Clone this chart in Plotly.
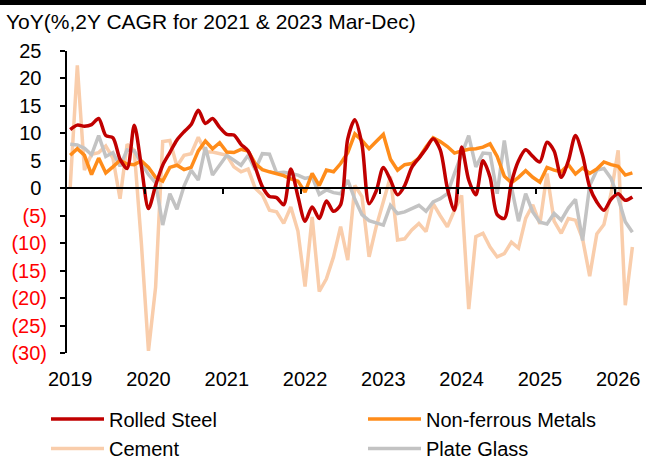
import plotly.graph_objects as go

# ---------------- data ----------------
years = ["2019", "2020", "2021", "2022", "2023", "2024", "2025", "2026"]
months = ["Jan-Feb", "Mar", "Apr", "May", "Jun", "Jul", "Aug", "Sep", "Oct", "Nov", "Dec"]
periods = [f"{m} {y}" for y in years[:-1] for m in months] + [f"{m} 2026" for m in months[:3]]

rolled_steel = [10.7, 11.5, 11.3, 11.6, 12.7, 9.6, 9.2, 5.3, 3.6, 11.5, 4.0,
                -3.7, 0.5, 4.2, 6.5, 8.8, 10.3, 11.6, 14.2, 11.8, 12.7, 11.1,
                9.8, 9.7, 8.0, 6.8, 3.8, 0.3, -1.5, -1.7, -3.0, 3.5, -1.5,
                -6.0, -3.4, -5.5, -2.3, -4.2, -3.0, 9.0, 12.5, 8.0, -2.8, -0.5,
                3.8, 1.5, -1.2, 0.5, 3.8, 5.5, 7.2, 9.0, 7.0, 0.0, -4.0,
                7.5, 1.5, -1.2, 5.0, 2.0, -4.8, -5.5, 1.0, 5.0, 7.0, 5.8,
                4.8, 8.4, 6.8, 2.0, 5.0, 9.6, 6.0, 0.2, -2.5, -4.0, -2.0,
                -1.0, -2.2, -1.6]

non_ferrous = [6.0, 7.2, 6.0, 2.5, 5.5, 2.8, 3.9, 5.1, 4.4, 4.3, 5.0,
               3.8, 2.0, 1.3, 3.8, 4.2, 3.4, 3.8, 6.8, 8.6, 7.2, 8.3,
               6.6, 6.5, 7.1, 6.8, 4.5, 3.4, 3.0, 2.7, 2.3, 1.7, 1.3,
               -0.7, 2.7, 0.5, 3.3, 3.0, 4.5, 6.5, 9.9, 8.7, 7.2, 8.5,
               9.8, 5.3, 3.3, 4.3, 4.5, 5.5, 7.5, 9.2, 8.5, 7.6, 6.4,
               6.8, 7.1, 7.2, 7.5, 8.1, 5.8, 2.2, 1.0, 2.0, 3.2, 2.0,
               1.1, 3.8, 3.3, 3.0, 4.3, 2.6, 3.7, 2.7, 3.5, 4.8, 4.3,
               4.0, 2.4, 2.8]

cement = [0.2, 22.4, 3.3, 6.2, 6.5, 7.7, 5.5, -1.9, 8.0, 6.9, -10.0,
          -29.6, -18.0, 8.5, 8.7, 4.0, 6.0, 6.3, 9.3, 6.6, 6.6, 6.3,
          6.0, 3.9, 3.0, 3.5, 0.0, -1.2, -4.0, -4.3, -6.4, -3.4, -7.8,
          -17.9, -5.2, -18.8, -16.5, -12.5, -7.0, -13.1, 0.5, -1.5, -12.5, -7.0,
          -2.5, 2.1, -9.4, -9.2, -7.6, -6.4, -7.9, -2.8, -5.0, -7.0, -4.0,
          -1.3, -22.0, -8.8, -8.2, -10.7, -12.5, -11.9, -9.8, -10.9, -5.5, -3.0,
          -6.5, 2.7, -6.0, -8.2, -5.5, -5.8, -9.2, -16.0, -8.3, -6.6, -1.0,
          6.9, -21.3, -10.7]

plate_glass = [8.0, 7.9, 7.3, 6.1, 9.6, 5.8, 6.5, 4.0, 7.0, 6.8, 4.6,
               2.5, 1.0, -6.7, -1.0, -3.8, 0.4, 3.3, 1.5, 7.5, 2.4, 4.2,
               6.0, 5.1, 4.2, 6.0, 3.4, 6.3, 6.2, 2.8, 2.9, 2.7, 2.4,
               1.8, 2.1, -1.1, -0.3, -0.8, -1.0, 1.5, -2.0, -4.8, -5.9, -6.3,
               -6.7, -3.1, -4.6, -4.3, -3.7, -3.1, -4.2, -2.5, -1.9, -1.0, 2.7,
               6.3, 9.6, 3.9, 6.4, 6.3, -1.0, 8.7, 0.2, -6.0, -1.0, -4.3,
               -6.2, -6.5, -4.6, -5.8, -3.6, -2.0, -9.5, 0.5, 3.3, 3.6, 1.8,
               -1.8, -6.1, -8.0]

y_ticks = [25, 20, 15, 10, 5, 0, -5, -10, -15, -20, -25, -30]

title_text = "YoY(%,2Y CAGR for 2021 & 2023 Mar-Dec)"

# ---------------- figure ----------------
W, H = 646, 459
L, R, T, B = 67, 4, 51, 106
pw, ph = W - L - R, H - T - B

def px_x(p):
    return (p - L) / pw

def px_y(p):
    return (H - B - p) / ph

x = list(range(len(periods)))
year_pos = [periods.index(f"Jan-Feb {y}") for y in years]
between_ticks = [p - 0.5 for p in year_pos[1:]]
x_range = [-0.45, 80.35]

FONT = "Arial, 'Liberation Sans', sans-serif"

fig = go.Figure()

series = [
    ("Cement", cement, "#F9CDAB", "linear", "legend3"),
    ("Plate Glass", plate_glass, "#C3C3C3", "linear", "legend4"),
    ("Non-ferrous Metals", non_ferrous, "#FF8C1A", "linear", "legend2"),
    ("Rolled Steel", rolled_steel, "#C00000", "spline", "legend"),
]
for name, vals, color, shape, lg in series:
    fig.add_trace(go.Scatter(
        x=x, y=vals, name=name, mode="lines",
        line=dict(color=color, width=3.5, shape=shape, smoothing=0.8),
        customdata=periods, legend=lg,
        hovertemplate="%{customdata}<br>%{y:.1f}<extra>" + name + "</extra>",
    ))

# helper (empty) trace so the zero-line axis carrying the year ticks is drawn
fig.add_trace(go.Scatter(x=[], y=[], xaxis="x2", yaxis="y", showlegend=False, hoverinfo="skip"))

def tick_label(v):
    if v < 0:
        return f"<span style='color:#FF0000'>({abs(v)})</span>"
    return f"{v}\u00a0"

leg_common = dict(font=dict(family=FONT, size=20, color="#000000"),
                  bgcolor="rgba(0,0,0,0)", borderwidth=0, itemwidth=53,
                  xanchor="left", yanchor="top", orientation="v")
row1_top, row2_top = 399.5, 429.0
col1, col2 = 46, 363

fig.update_layout(
    width=W, height=H, autosize=False,
    margin=dict(l=L, r=R, t=T, b=B, autoexpand=False),
    paper_bgcolor="#FFFFFF", plot_bgcolor="#FFFFFF",
    font=dict(family=FONT, size=20, color="#000000"),
    title=dict(text=title_text, x=6 / W, xanchor="left", xref="container",
               y=1 - 22 / H, yanchor="middle", yref="container",
               font=dict(family=FONT, size=21, color="#000000")),
    xaxis=dict(range=x_range, tickmode="array", tickvals=year_pos, ticktext=years,
               showline=False, showgrid=False, zeroline=False, ticks="",
               ticklabelstandoff=12, automargin=False,
               tickfont=dict(family=FONT, size=20, color="#000000")),
    xaxis2=dict(range=x_range, overlaying="x", anchor="free", position=30 / 55,
                side="bottom", showline=True, linecolor="#000000", linewidth=2,
                ticks="outside", ticklen=5, tickwidth=2, tickcolor="#000000",
                tickmode="array", tickvals=between_ticks, showticklabels=False,
                showgrid=False, zeroline=False, automargin=False),
    yaxis=dict(range=[-30, 25], tickmode="array", tickvals=y_ticks,
               ticktext=[tick_label(v) for v in y_ticks],
               showline=True, linecolor="#000000", linewidth=2,
               ticks="outside", ticklen=5, tickwidth=2, tickcolor="#000000",
               showgrid=False, zeroline=False, ticklabelstandoff=9, automargin=False,
               tickfont=dict(family=FONT, size=20, color="#000000")),
    legend=dict(x=px_x(col1), y=px_y(row1_top), **leg_common),
    legend2=dict(x=px_x(col2), y=px_y(row1_top), **leg_common),
    legend3=dict(x=px_x(col1), y=px_y(row2_top), **leg_common),
    legend4=dict(x=px_x(col2), y=px_y(row2_top), **leg_common),
    shapes=[dict(type="rect", xref="paper", yref="paper",
                 x0=-0.3, x1=1.2, y0=px_y(5), y1=px_y(-10),
                 fillcolor="#000000", line=dict(width=0), layer="above")],
    showlegend=True,
)

fig.write_html("out.html",
               config={"displayModeBar": False},
               post_script="document.body.style.margin='0';document.body.style.padding='0';")
